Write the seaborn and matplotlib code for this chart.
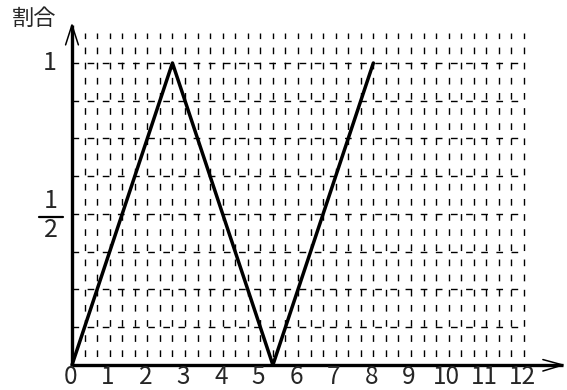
import numpy as np
import pandas as pd
import matplotlib
matplotlib.use('Agg')
import matplotlib.pyplot as plt
import seaborn as sns

# data: zigzag of the ratio over time
x_vals = [0, 8 / 3, 16 / 3, 8]
y_vals = [0, 1, 0, 1]
x_ticks = list(range(0, 13))
x_labels = [str(t) for t in x_ticks]
y_label = '割合'

sns.set_style('white')
plt.rcParams['font.family'] = ['Noto Sans CJK JP', 'DejaVu Sans']
plt.rcParams['lines.scale_dashes'] = False

fig = plt.figure(figsize=(5.67, 3.9), dpi=100)
ax = fig.add_axes([0, 0, 1, 1])
ax.set_xlim(-1.911, 13.141)
ax.set_ylim(-0.0828, 1.2086)
ax.axis('off')

# dashed grid: every 1/3 across, every 1/8 up
dash = (0, (4.8, 6.1))
for gx in np.arange(1, 37) / 3:
    ax.plot([gx, gx], [0, 1.10], color='black', lw=1.0,
            linestyle=(4.8, (4.8, 6.1)), solid_capstyle='butt')
for gy in np.arange(1, 9) / 8:
    ax.plot([0, 12], [gy, gy], color='black', lw=1.0,
            linestyle=dash, solid_capstyle='butt')

# axes with open arrow heads
ax.plot([0, 0], [0, 1.126], color='black', lw=2.4, solid_capstyle='butt')
ax.plot([-0.17, 0, 0.17], [1.06, 1.126, 1.06], color='black', lw=1.1)
ax.plot([0, 13.03], [0, 0], color='black', lw=2.4, solid_capstyle='butt')
ax.plot([12.5, 13.03, 12.5], [0.018, 0, -0.020], color='black', lw=1.1)

df = pd.DataFrame({'x': x_vals, 'y': y_vals})
sns.lineplot(data=df, x='x', y='y', color='black', lw=2.5, ax=ax,
             estimator=None, sort=False)

for t, lab in zip(x_ticks, x_labels):
    ax.text(t - 0.05, -0.063, lab, ha='center', va='baseline', fontsize=17.5)

ax.text(-0.584, 1.0, '1', ha='center', va='center', fontsize=18)
ax.text(-0.56, 0.542, '1', ha='center', va='center', fontsize=18)
ax.plot([-0.876, -0.24], [0.491, 0.491], color='black', lw=1.6)
ax.text(-0.56, 0.447, '2', ha='center', va='center', fontsize=18)
ax.text(-1.009, 1.146, y_label, ha='center', va='center', fontsize=16)

fig.savefig('out.png', dpi=100)
